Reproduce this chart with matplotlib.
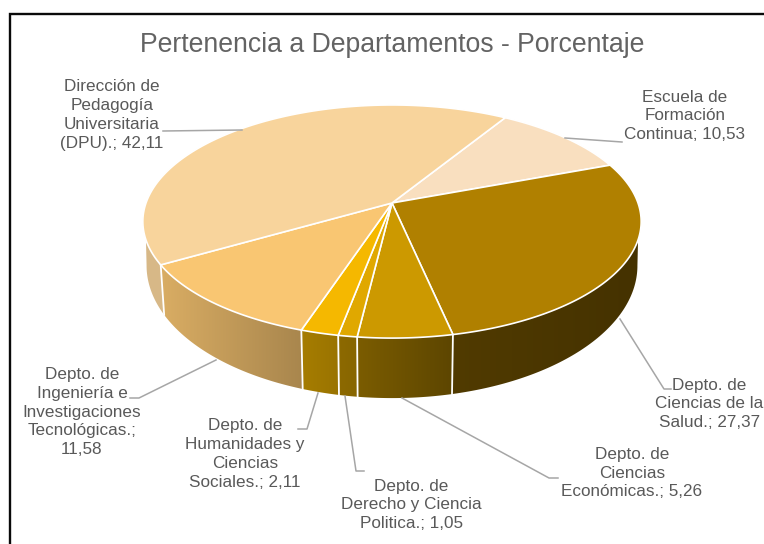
import numpy as np
import matplotlib
matplotlib.use("Agg")
import matplotlib.pyplot as plt
from matplotlib.patches import Polygon

plt.rcParams['font.family'] = ['Liberation Sans', 'DejaVu Sans']

title = "Pertenencia a Departamentos - Porcentaje"
categories = ["Escuela de\nFormación\nContinua",
              "Depto. de\nCiencias de la\nSalud.",
              "Depto. de\nCiencias\nEconómicas.",
              "Depto. de\nDerecho y Ciencia\nPolitica.",
              "Depto. de\nHumanidades y\nCiencias\nSociales.",
              "Depto. de\nIngeniería e\nInvestigaciones\nTecnológicas.",
              "Dirección de\nPedagogía\nUniversitaria\n(DPU)."]
values = [10.53, 27.37, 5.26, 1.05, 2.11, 11.58, 42.11]
value_labels = ["10,53", "27,37", "5,26", "1,05", "2,11", "11,58", "42,11"]
separators = ["; ", "; ", "; ", "; ", "; ", ";\n", "; "]
colors = ["#F9DFBF", "#B08000", "#CC9900", "#E0A800", "#F5B800", "#F9C672", "#F8D49C"]
label_pos = [(685, 116), (709.5, 404), (632, 473), (411, 505), (245, 454), (82, 412), (112, 115)]
leaders = [[(565, 138), (622, 142)],
           [(620, 319), (664, 389), (671, 389)],
           [(402, 398), (549, 478), (558, 478)],
           [(345, 396), (356, 471), (364, 471)],
           [(318, 393), (307, 429), (298, 429)],
           [(216, 360), (139, 398), (130, 398)],
           [(242, 130), (163, 131)]]

START = 31.5
K = 0.159
RX, RY = 246.0, 113.6
CX, CY = 392.0, 203.0
CY_B, SX_B, SY_B = 244.5, 0.985, 1.137


def top(theta):
    t = np.radians(theta)
    u, v = np.sin(t), np.cos(t)
    w = 1 + K * v
    return CX + RX * u / w, CY - RY * v / w


def bottom(theta):
    t = np.radians(theta)
    u, v = np.sin(t), np.cos(t)
    w = 1 + K * v
    return CX + SX_B * RX * u / w, CY_B - SY_B * RY * v / w


def shade(x):
    return np.interp(x, [145, 163, 300, 345, 360, 450, 640],
                     [0.87, 0.87, 0.68, 0.62, 0.60, 0.46, 0.39])


fig = plt.figure(figsize=(7.64, 5.44), dpi=100)
ax = fig.add_axes([0, 0, 1, 1])

# frame
ax.plot([9.5, 9.5, 764], [544, 13.8, 13.8], color="#0A0A0A", lw=1.7, solid_joinstyle="miter", zorder=1)

edges = START + np.concatenate([[0], np.cumsum(values)]) * 360 / sum(values)

# side wall: horizontal gradient clipped to the visible wall of each slice
for i, col in enumerate(colors):
    a0, a1 = edges[i], edges[i + 1]
    t0, t1 = max(a0, 108), min(a1, 252)
    b0, b1 = max(a0, 99), min(a1, 261)
    if t1 <= t0 or b1 <= b0:
        continue
    tx, ty = top(np.linspace(t0, t1, 80))
    bx, by = bottom(np.linspace(b0, b1, 80))
    pts = np.column_stack([np.r_[tx, bx[::-1]], np.r_[ty, by[::-1]]])
    x0, x1 = pts[:, 0].min() - 2, pts[:, 0].max() + 2
    y0, y1 = pts[:, 1].min() - 2, pts[:, 1].max() + 2
    xs = np.linspace(x0, x1, 200)
    base = np.array(matplotlib.colors.to_rgb(col))
    img = (base[None, None, :] * shade(xs)[None, :, None]).clip(0, 1)
    im = ax.imshow(img, extent=(x0, x1, y1, y0), aspect="auto", interpolation="bilinear", zorder=2)
    im.set_clip_path(Polygon(pts, closed=True, transform=ax.transData))

# white verticals on the walls
for a in edges[:-1]:
    tx, ty = top(a)
    bx, by = bottom(a)
    if np.cos(np.radians(a)) < 0.0:
        ax.plot([tx, bx], [ty, by], color="white", lw=1.3, zorder=3)

# top faces
for i, col in enumerate(colors):
    th = np.linspace(edges[i], edges[i + 1], max(int(edges[i + 1] - edges[i]) * 2, 4))
    tx, ty = top(th)
    pts = np.column_stack([np.r_[CX, tx], np.r_[CY, ty]])
    ax.add_patch(Polygon(pts, closed=True, facecolor=col, edgecolor="white", lw=1.2,
                         joinstyle="round", zorder=4))

# leaders
for line in leaders:
    xs, ys = zip(*line)
    ax.plot(xs, ys, color="#A6A6A6", lw=1.1, zorder=5)

# labels
for cat, val, sep, (x, y) in zip(categories, value_labels, separators, label_pos):
    ax.text(x, y, f"{cat}{sep}{val}", ha="center", va="center", fontsize=12.3,
            color="#595959", linespacing=1.32, zorder=6, clip_on=True)

ax.text(392, 44.5, title, ha="center", va="center", fontsize=19.2, color="#636363", zorder=6)

ax.set_xlim(0, 764)
ax.set_ylim(544, 0)
ax.axis("off")

fig.savefig("out.png", dpi=100, facecolor="white")
